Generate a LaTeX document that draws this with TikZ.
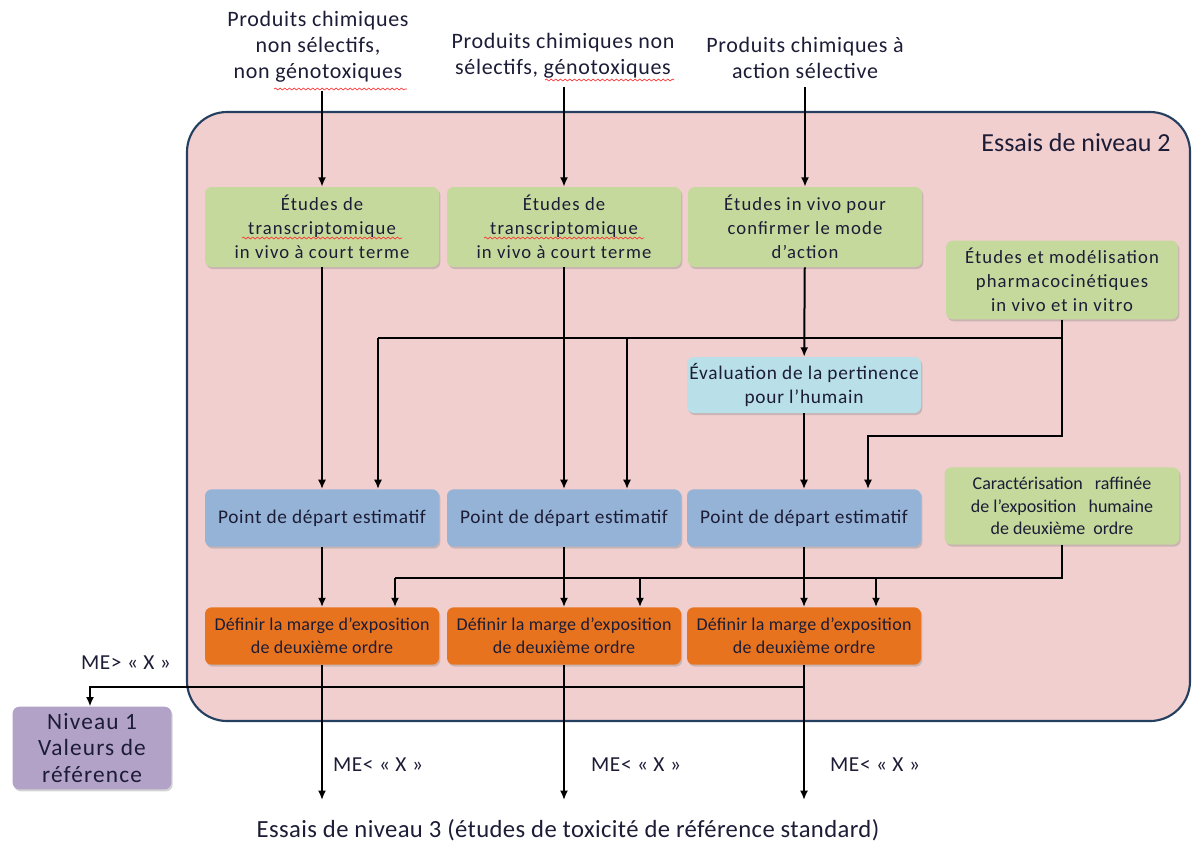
\documentclass[tikz,border=0pt]{standalone}
\usepackage{fontspec}
\setmainfont{Carlito}
\newfontfamily\lsG[LetterSpace=6]{Carlito}
\newfontfamily\lsE[LetterSpace=4]{Carlito}
\newfontfamily\lsB[LetterSpace=3.5]{Carlito}
\newfontfamily\lsO[LetterSpace=1.5]{Carlito}
\newfontfamily\lsT[LetterSpace=3]{Carlito}
\newfontfamily\lsN[LetterSpace=5]{Carlito}
\usetikzlibrary{shadows,arrows.meta,decorations.pathmorphing}
\definecolor{pinkbg}{HTML}{F2CFCF}
\definecolor{frame}{HTML}{243F60}
\definecolor{gfill}{HTML}{C5D99C}
\definecolor{lblue}{HTML}{B9DFE9}
\definecolor{mblue}{HTML}{95B3D7}
\definecolor{orng}{HTML}{E8731F}
\definecolor{purp}{HTML}{B3A2C7}
\definecolor{txt}{HTML}{1C1C36}
\tikzset{
  boxbase/.style={rounded corners=5pt, align=center, text=txt, inner sep=1pt,
    drop shadow={opacity=0.35, shadow xshift=1pt, shadow yshift=-1.5pt}},
  gbox/.style={boxbase, fill=gfill, minimum width=175.5pt, minimum height=60pt,
    font=\lsG\fontsize{14}{18}\selectfont},
  ebox/.style={boxbase, fill=lblue, minimum width=175.5pt, minimum height=42pt,
    font=\lsE\fontsize{14.5}{18}\selectfont},
  bbox/.style={boxbase, fill=mblue, minimum width=175.5pt, minimum height=43pt,
    font=\lsB\fontsize{14.5}{18}\selectfont},
  obox/.style={boxbase, fill=orng, minimum width=175.5pt, minimum height=43pt,
    font=\lsO\fontsize{13.5}{17}\selectfont},
  pbox/.style={boxbase, fill=purp, minimum width=119pt, minimum height=62pt,
    font=\lsN\fontsize{17.5}{20}\selectfont},
  toplbl/.style={align=center, text=txt, inner sep=0pt, font=\lsT\fontsize{16.5}{19.5}\selectfont},
  melbl/.style={text=txt, inner sep=0pt, font=\lsT\fontsize{16}{18}\selectfont},
  arr/.style={line width=1.5pt, draw=black, -{Latex[length=7pt,width=6pt]}},
  ln/.style={line width=1.5pt, draw=black},
  squig/.style={draw=red!80, line width=0.5pt, decorate, decoration={snake, amplitude=0.7pt, segment length=3.5pt}}
}
\begin{document}
\begin{tikzpicture}[x=0.75pt,y=-0.75pt]
\useasboundingbox (0,0) rectangle (1194,844);
% level-2 frame
\draw[fill=pinkbg, draw=frame, line width=1.6pt, rounded corners=30pt] (187,112) rectangle (1190,721);
\node[text=txt, inner sep=0pt, font=\fontsize{19.5}{22}\selectfont] (lvl2) at (1076,143) {Essais de niveau 2};

% top labels
\node[toplbl] (t1) at (318,47) {Produits chimiques\\non sélectifs,\\non génotoxiques};
\node[toplbl] (t2) at (563,56) {Produits chimiques non\\sélectifs, génotoxiques};
\node[toplbl] (t3) at (805,58) {Produits chimiques à\\action sélective};

% green boxes
\node[gbox] (g1) at (322,227) {Études de\\transcriptomique\\in vivo à court terme};
\node[gbox] (g2) at (564,227) {Études de\\transcriptomique\\in vivo à court terme};
\node[gbox] (g3) at (805,227) {Études in vivo pour\\confirmer le mode\\d’action};
\node[gbox, minimum width=174pt, minimum height=59pt] (pk) at (1062,280) {Études et modélisation\\pharmacocinétiques\\in vivo et in vitro};
\node[ebox] (ev) at (804,385) {Évaluation de la pertinence\\pour l’humain};
\node[bbox] (b1) at (322,518) {Point de départ estimatif};
\node[bbox] (b2) at (564,518) {Point de départ estimatif};
\node[bbox] (b3) at (804,518) {Point de départ estimatif};
\node[gbox, minimum width=176pt, minimum height=58pt, font=\fontsize{13.5}{17}\selectfont] (car) at (1062,506) {Caractérisation~~ raffinée\\de l’exposition~~ humaine\\de deuxième~ ordre};
\node[obox] (o1) at (322,636) {Définir la marge d’exposition\\de deuxième ordre};
\node[obox] (o2) at (564,636) {Définir la marge d’exposition\\de deuxième ordre};
\node[obox] (o3) at (804,636) {Définir la marge d’exposition\\de deuxième ordre};
\node[pbox] (n1) at (92,748) {Niveau 1\\Valeurs de\\référence};

% spell-check underlines
\draw[squig] (274,89) -- (407,89);
\draw[squig] (545,80) -- (674,80);
\draw[squig] (242,238) -- (402,238);
\draw[squig] (484,238) -- (644,238);

% coordinates for junctions and free ends
\coordinate (pkL) at (378,338);
\coordinate (pkM) at (627,338);
\coordinate (pkR) at (868,436);
\coordinate (caL) at (395,578);
\coordinate (caM) at (640,578);
\coordinate (caR) at (876,578);
\coordinate (meL) at (90,687);
\coordinate (e1) at (322,800);
\coordinate (e2) at (564,800);
\coordinate (e3) at (804,800);

% arrows
\draw[arr] (t1.south -| g1.north) ++(0,8) -- (g1.north);
\draw[arr] (t2.south -| g2.north) ++(0,8) -- (g2.north);
\draw[arr] (t3.south -| g3.north) ++(0,8) -- (g3.north);
\draw[arr] (g1) -- (b1);
\draw[arr] (g2) -- (b2);
\draw[arr] (g3) -- (ev);
\draw[arr] (ev) -- (b3);
\draw[ln] (pk.south) |- (pkL);
\draw[arr] (pkL) -- (pkL |- b1.north);
\draw[arr] (pkM) -- (pkM |- b2.north);
\draw[arr] (pk.south) |- (pkR) -- (pkR |- b3.north);
\draw[ln] (car.south) |- (caL);
\draw[arr] (caL) -- (caL |- o1.north);
\draw[arr] (caM) -- (caM |- o2.north);
\draw[arr] (caR) -- (caR |- o3.north);
\draw[arr] (b1) -- (o1);
\draw[arr] (b2) -- (o2);
\draw[arr] (b3) -- (o3);
\draw[arr] (o1) -- (e1);
\draw[arr] (o2) -- (e2);
\draw[arr] (o3) -- (e3);
\draw[arr] (o3.south) |- (meL) -- (meL |- n1.north);

% labels
\node[melbl] (mg) at (126,663) {ME> « X »};
\node[melbl] (ml1) at (378,765) {ME< « X »};
\node[melbl] (ml2) at (636,765) {ME< « X »};
\node[melbl] (ml3) at (875,765) {ME< « X »};
\node[text=txt, inner sep=0pt, font=\lsO\fontsize{18.5}{21}\selectfont] (lvl3) at (568,830) {Essais de niveau 3 (études de toxicité de référence standard)};
\end{tikzpicture}
\end{document}
